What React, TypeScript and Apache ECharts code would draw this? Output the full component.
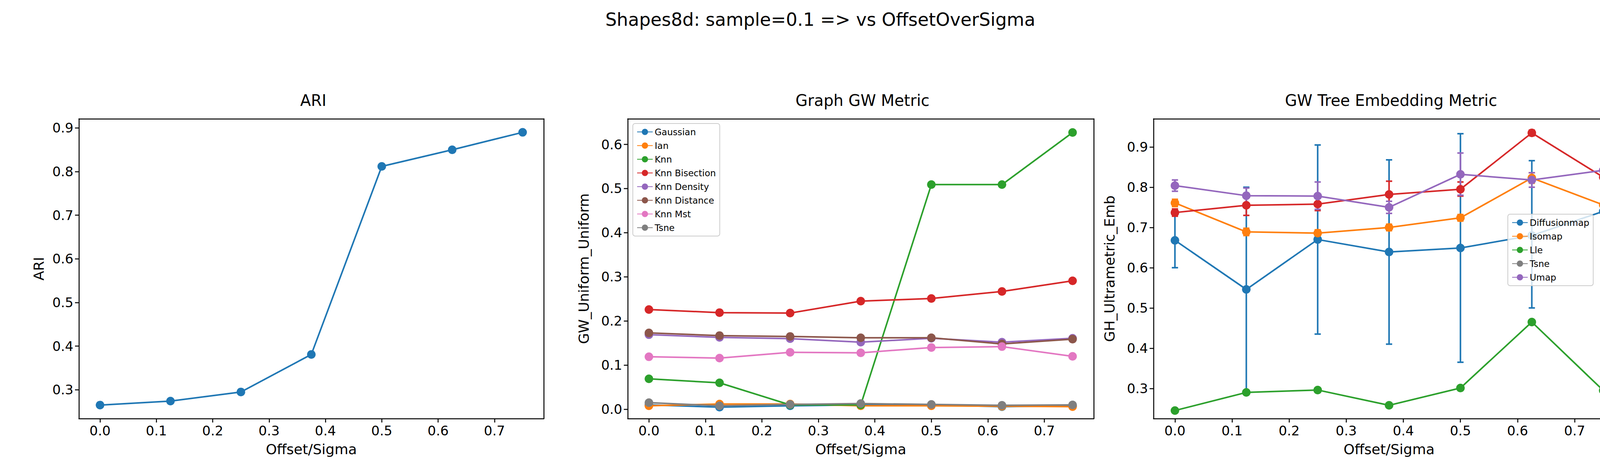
import React, { useEffect, useRef } from 'react';
import * as echarts from 'echarts';

const xs = [0, 0.125, 0.25, 0.375, 0.5, 0.625, 0.75];
const xTicks = [0, 0.1, 0.2, 0.3, 0.4, 0.5, 0.6, 0.7];

const ari = [0.265, 0.274, 0.295, 0.381, 0.812, 0.85, 0.89];

const gwNames = ['Gaussian', 'Ian', 'Knn', 'Knn Bisection', 'Knn Density', 'Knn Distance', 'Knn Mst', 'Tsne'];
const gaussian = [0.01, 0.005, 0.008, 0.01, 0.01, 0.006, 0.008];
const ian = [0.008, 0.012, 0.012, 0.008, 0.008, 0.007, 0.006];
const knn = [0.069, 0.06, 0.01, 0.01, 0.509, 0.509, 0.627];
const knnBisection = [0.226, 0.219, 0.218, 0.245, 0.251, 0.267, 0.291];
const knnDensity = [0.169, 0.163, 0.16, 0.152, 0.161, 0.152, 0.161];
const knnDistance = [0.173, 0.167, 0.165, 0.162, 0.162, 0.148, 0.159];
const knnMst = [0.119, 0.116, 0.129, 0.128, 0.14, 0.142, 0.12];
const tsneGw = [0.015, 0.008, 0.011, 0.013, 0.011, 0.009, 0.01];

const embNames = ['Diffusionmap', 'Isomap', 'Lle', 'Tsne', 'Umap'];
const diffusionmap = [0.668, 0.546, 0.67, 0.639, 0.649, 0.68, 0.74];
const diffusionLo = [0.6, 0.29, 0.435, 0.41, 0.365, 0.5, 0.64];
const diffusionHi = [0.735, 0.8, 0.905, 0.868, 0.933, 0.866, 0.84];
const isomap = [0.761, 0.689, 0.686, 0.7, 0.724, 0.823, 0.756];
const isomapLo = [0.752, 0.68, 0.678, 0.692, 0.716, 0.81, 0.748];
const isomapHi = [0.77, 0.698, 0.694, 0.708, 0.732, 0.836, 0.764];
const lle = [0.245, 0.29, 0.296, 0.258, 0.301, 0.465, 0.295];
const tsneEmb = [0.737, 0.755, 0.758, 0.782, 0.795, 0.935, 0.825];
const tsneLo = [0.728, 0.73, 0.742, 0.75, 0.778, 0.928, 0.787];
const tsneHi = [0.746, 0.78, 0.775, 0.815, 0.813, 0.942, 0.863];
const umap = [0.804, 0.779, 0.778, 0.75, 0.832, 0.818, 0.842];
const umapLo = [0.79, 0.76, 0.745, 0.735, 0.78, 0.8, 0.81];
const umapHi = [0.818, 0.798, 0.813, 0.765, 0.885, 0.836, 0.873];

const colors = ['#1f77b4', '#ff7f0e', '#2ca02c', '#d62728', '#9467bd', '#8c564b', '#e377c2', '#7f7f7f'];
const font = 'DejaVu Sans';

const pts = (ys: number[]) => xs.map((x, i) => [x, ys[i]]);

export default function App() {
  const ref = useRef<HTMLDivElement>(null);
  useEffect(() => {
    document.body.style.margin = '0';
    if (!ref.current) return;
    const chart = echarts.init(ref.current, null, { renderer: 'svg' });
    const grids = [
      { left: 202, width: 1190, top: 304, height: 767 },
      { left: 1607, width: 1193, top: 304, height: 767 },
      { left: 2953, width: 1206, top: 304, height: 767 },
    ];
    const yRanges = [
      { min: 0.234, max: 0.921, ticks: [0.3, 0.4, 0.5, 0.6, 0.7, 0.8, 0.9], name: 'ARI' },
      { min: -0.021, max: 0.658, ticks: [0, 0.1, 0.2, 0.3, 0.4, 0.5, 0.6], name: 'GW_Uniform_Uniform' },
      { min: 0.225, max: 0.97, ticks: [0.3, 0.4, 0.5, 0.6, 0.7, 0.8, 0.9], name: 'GH_Ultrametric_Emb' },
    ];
    const axisCommon = {
      axisLine: { onZero: false, lineStyle: { color: '#000', width: 2.5 } },
      axisTick: { length: 10, lineStyle: { color: '#000', width: 2.5 } },
      axisLabel: { color: '#000', fontSize: 34, fontFamily: font, margin: 14 },
      splitLine: { show: false },
      nameTextStyle: { color: '#000', fontSize: 36, fontFamily: font },
    };
    const xAxis = grids.map((_, i) => ({
      ...axisCommon,
      type: 'value', gridIndex: i, min: -0.0375, max: 0.7875,
      name: 'Offset/Sigma', nameLocation: 'middle', nameGap: 60,
      axisTick: { ...axisCommon.axisTick, customValues: xTicks },
      axisLabel: { ...axisCommon.axisLabel, customValues: xTicks, formatter: (v: number) => v.toFixed(1) },
    }));
    const yAxis = yRanges.map((r, i) => ({
      ...axisCommon,
      type: 'value', gridIndex: i, min: r.min, max: r.max,
      name: r.name, nameLocation: 'middle', nameGap: i === 0 ? 85 : 95,
      axisTick: { ...axisCommon.axisTick, customValues: r.ticks },
      axisLabel: { ...axisCommon.axisLabel, customValues: r.ticks, formatter: (v: number) => v.toFixed(1) },
    }));
    // closed box on top/right
    const boxLine = { show: true, onZero: false, lineStyle: { color: '#000', width: 2.5 } };
    const boxAxes = grids.map((_, i) => ({
      type: 'value', gridIndex: i, position: 'top', min: 0, max: 1,
      axisLine: boxLine, axisTick: { show: false }, axisLabel: { show: false }, splitLine: { show: false },
    }));
    const boxY = grids.map((_, i) => ({
      type: 'value', gridIndex: i, position: 'right', min: 0, max: 1,
      axisLine: boxLine, axisTick: { show: false }, axisLabel: { show: false }, splitLine: { show: false },
    }));

    const line = (name: string, data: number[], color: string, xi: number, yi: number) => ({
      name, type: 'line', data: pts(data), xAxisIndex: xi, yAxisIndex: yi,
      symbol: 'circle', symbolSize: 22, itemStyle: { color },
      lineStyle: { color, width: 4 },
    });
    const errBar = (name: string, lo: number[], hi: number[], color: string) => ({
      name: name + ' err', type: 'custom', xAxisIndex: 2, yAxisIndex: 2, z: 1,
      itemStyle: { color },
      data: xs.map((x, i) => [x, lo[i], hi[i]]),
      renderItem: (_p: any, api: any) => {
        const a = api.coord([api.value(0), api.value(1)]);
        const b = api.coord([api.value(0), api.value(2)]);
        const st = { stroke: color, lineWidth: 4 };
        return {
          type: 'group', children: [
            { type: 'line', shape: { x1: a[0], y1: a[1], x2: b[0], y2: b[1] }, style: st },
            { type: 'line', shape: { x1: a[0] - 8, y1: a[1], x2: a[0] + 8, y2: a[1] }, style: st },
            { type: 'line', shape: { x1: b[0] - 8, y1: b[1], x2: b[0] + 8, y2: b[1] }, style: st },
          ],
        };
      },
    });

    const gwData = [gaussian, ian, knn, knnBisection, knnDensity, knnDistance, knnMst, tsneGw];
    const embData = [diffusionmap, isomap, lle, tsneEmb, umap];
    const embColors = [colors[0], colors[1], colors[2], colors[3], colors[4]];

    const legendCommon = {
      orient: 'vertical', itemWidth: 40, itemHeight: 20, itemGap: 12,
      textStyle: { fontSize: 23, fontFamily: font, color: '#000' },
      backgroundColor: 'rgba(255,255,255,0.8)', borderColor: '#ccc', borderWidth: 2, borderRadius: 6,
      padding: [10, 10],
    };

    chart.setOption({
      animation: false,
      backgroundColor: '#fff',
      title: [
        { text: 'Shapes8d: sample=0.1 => vs OffsetOverSigma', left: 'center', top: 22, textStyle: { fontSize: 46, fontWeight: 'normal', fontFamily: font, color: '#000' } },
        { text: 'ARI', left: 797, textAlign: 'center', top: 232, textStyle: { fontSize: 40, fontWeight: 'normal', fontFamily: font, color: '#000' } },
        { text: 'Graph GW Metric', left: 2203, textAlign: 'center', top: 232, textStyle: { fontSize: 40, fontWeight: 'normal', fontFamily: font, color: '#000' } },
        { text: 'GW Tree Embedding Metric', left: 3556, textAlign: 'center', top: 232, textStyle: { fontSize: 40, fontWeight: 'normal', fontFamily: font, color: '#000' } },
      ],
      grid: grids,
      xAxis: [...xAxis, ...boxAxes],
      yAxis: [...yAxis, ...boxY],
      legend: [
        { ...legendCommon, data: gwNames, left: 1620, top: 316 },
        { ...legendCommon, data: embNames, left: 3860, top: 548 },
      ],
      series: [
        line('ARI', ari, colors[0], 0, 0),
        ...gwNames.map((n, i) => line(n, gwData[i], colors[i], 1, 1)),
        errBar('Diffusionmap', diffusionLo, diffusionHi, colors[0]),
        errBar('Isomap', isomapLo, isomapHi, colors[1]),
        errBar('Tsne', tsneLo, tsneHi, colors[3]),
        errBar('Umap', umapLo, umapHi, colors[4]),
        ...embNames.map((n, i) => line(n, embData[i], embColors[i], 2, 2)),
      ],
    });
    return () => chart.dispose();
  }, []);
  return <div ref={ref} style={{ width: 4200, height: 1200 }} />;
}
